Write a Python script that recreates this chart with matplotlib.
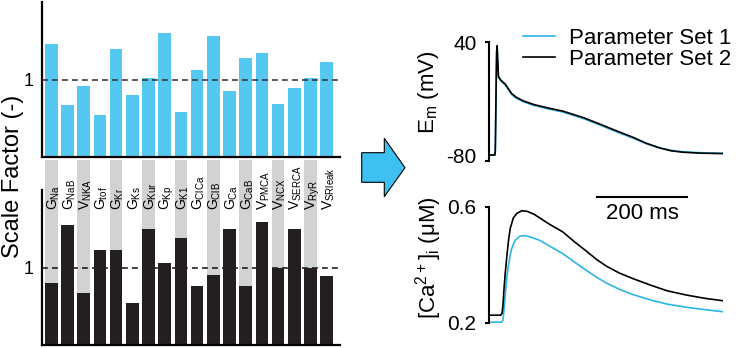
import numpy as np
import matplotlib
matplotlib.use('Agg')
import matplotlib.pyplot as plt
from matplotlib.patches import Polygon

plt.rcParams['font.family'] = ['Liberation Sans', 'DejaVu Sans']
plt.rcParams['mathtext.default'] = 'regular'

# --- Data ---
prefixes = ['G', 'G', 'V', 'G', 'G', 'G', 'G', 'G', 'G', 'G', 'G', 'G', 'G', 'V', 'V', 'V', 'V', 'V']
subs = ['Na', 'NaB', 'NKA', 'tof', 'Kr', 'Ks', 'Kur', 'Kp', 'K1', 'ClCa', 'ClB', 'Ca', 'CaB',
        'PMCA', 'NCX', 'SERCA', 'RyR', 'SRleak']
scale_set1 = [1.46, 0.67, 0.92, 0.55, 1.40, 0.80, 1.02, 1.61, 0.59, 1.13, 1.57, 0.85, 1.29,
              1.35, 0.69, 0.89, 1.02, 1.23]
scale_set2 = [0.80, 1.55, 0.68, 1.23, 1.23, 0.55, 1.51, 1.06, 1.39, 0.77, 0.91, 1.51, 0.77,
              1.60, 1.00, 1.51, 1.00, 0.89]

em_t = [0, 13, 14, 15, 16, 17, 18, 19, 21, 25, 30, 36, 43, 50, 60, 76, 100, 130, 164, 210,
        247, 280, 320, 350, 380, 405, 431, 470, 520]
em_set1 = [-80, -80, -75, -40, 0, 30, 36, 25, 3, 0, -2.5, -5, -10, -15, -19, -23, -27, -30.5,
           -34, -41, -48, -54.5, -62, -68, -72.5, -75, -76.5, -77.5, -78]
em_set2 = [-80, -80, -75, -40, 0, 30, 37, 26, 4, 1, -1.5, -4, -9, -14, -18, -22, -26, -29.5,
           -33, -40, -47, -53.5, -61, -67.5, -72.5, -75.5, -77, -78, -78.5]

ca_t1 = [0, 28, 31, 33, 36, 39, 42, 46, 50, 58, 69, 80, 91, 113, 135, 164, 190, 213, 240, 262,
         290, 320, 360, 396, 440, 480, 519]
ca_set1 = [0.203, 0.203, 0.210, 0.240, 0.294, 0.345, 0.387, 0.425, 0.455, 0.485, 0.500, 0.501,
           0.497, 0.485, 0.465, 0.439, 0.410, 0.385, 0.357, 0.337, 0.316, 0.298, 0.279, 0.265,
           0.254, 0.246, 0.239]
ca_t2 = [0, 26, 29, 31, 33, 36, 39, 43, 47, 54, 62, 73, 85, 100, 135, 164, 190, 213, 240, 262,
         290, 320, 360, 396, 440, 480, 519]
ca_set2 = [0.227, 0.227, 0.233, 0.260, 0.310, 0.370, 0.420, 0.480, 0.525, 0.562, 0.578, 0.587,
           0.585, 0.575, 0.540, 0.514, 0.480, 0.452, 0.418, 0.395, 0.372, 0.353, 0.330, 0.311,
           0.296, 0.285, 0.277]

blue = '#55C8F2'
line_blue = '#2DB4E8'
dark = '#231F20'
gray = '#D1D2D4'

W, H = 737, 348
fig = plt.figure(figsize=(W / 100, H / 100), dpi=100)


def px(x0, y0, x1, y1):
    # figure-fraction rect from pixel corners (top-left origin)
    return [x0 / W, 1 - y1 / H, (x1 - x0) / W, (y1 - y0) / H]


x = np.arange(len(subs))
labels = ['$%s_{%s}$' % (p, s) for p, s in zip(prefixes, subs)]

# --- Bar panels ---
ax_top = fig.add_axes(px(42, 2, 340, 157))
ax_bot = fig.add_axes(px(42, 190, 340, 345))

for ax in (ax_top, ax_bot):
    ax.set_xlim(-0.58, 17.82)
    ax.set_ylim(0, 2.01)
    for s in ('top', 'right'):
        ax.spines[s].set_visible(False)
    for s in ('left', 'bottom'):
        ax.spines[s].set_linewidth(1.6)
    ax.set_xticks([])
    ax.set_yticks([1])
    ax.set_yticklabels(['1'])
    ax.tick_params(axis='y', length=0, pad=6, labelsize=13)

ax_top.bar(x, scale_set1, width=0.78, color=blue, zorder=2)
ax_top.axhline(1, ls=(0, (3.5, 2.5)), lw=1.2, color='#3a3a3a', zorder=3)

# gray bands linking the panels for every other parameter
band_idx = x[::2]
band_bottom = [scale_set2[i] for i in band_idx]
ax_bot.bar(band_idx, [2.40 - b for b in band_bottom], bottom=band_bottom, width=0.78,
           color=gray, zorder=1, clip_on=False)
ax_bot.bar(x, scale_set2, width=0.78, color=dark, zorder=2)
ax_bot.axhline(1, ls=(0, (3.5, 2.5)), lw=1.2, color=dark, zorder=3)

for xi, lab in zip(x, labels):
    ax_bot.text(xi + 0.12, 1.75, lab, rotation=90, ha='center', va='bottom', fontsize=10,
                zorder=4)

fig.text(13.5 / W, 0.494, 'Scale Factor (-)', rotation=90, ha='center', va='center', fontsize=17)

# --- Arrow ---
arrow_px = [(361.7, 152.7), (384.3, 152.7), (384.3, 138.3), (405, 167.7),
            (384.3, 196.7), (384.3, 182.3), (361.7, 182.3)]
fig.add_artist(Polygon([(a / W, 1 - b / H) for a, b in arrow_px], closed=True,
                       transform=fig.transFigure, facecolor='#3EC1F0', edgecolor='black', lw=0.8))

# --- Membrane potential ---
ax_em = fig.add_axes(px(489, 42, 723, 161))
ax_em.plot(em_t, em_set1, color=line_blue, lw=1.2, label='Parameter Set 1', zorder=2)
ax_em.plot(em_t, em_set2, color='black', lw=1.2, label='Parameter Set 2', zorder=3)
ax_em.set_xlim(0, 520)
ax_em.set_ylim(-86.4, 41)
ax_em.spines['left'].set_bounds(-86.4, 41)
ax_em.set_yticks([-80, 40])
ax_em.set_yticklabels(['-80', '40'])
ax_em.set_yticks([-86.4, 40.6], minor=True)
ax_em.tick_params(axis='y', which='major', length=0, pad=9, labelsize=15)
ax_em.tick_params(axis='y', which='minor', length=3, width=1.5)
ax_em.text(-0.26, 0.58, 'E$_m$ (mV)', transform=ax_em.transAxes, rotation=90,
           ha='center', va='center', fontsize=16)
ax_em.legend(loc='upper left', bbox_to_anchor=(523 / W, 1 - 28 / H), bbox_transform=fig.transFigure,
             frameon=False, fontsize=16, handlelength=1.45, handletextpad=0.6, labelspacing=0.0,
             borderpad=0, borderaxespad=0)

# --- Calcium ---
ax_ca = fig.add_axes(px(489, 207, 723, 323))
ax_ca.plot(ca_t1, ca_set1, color=line_blue, lw=1.2)
ax_ca.plot(ca_t2, ca_set2, color='black', lw=1.2)
ax_ca.set_xlim(0, 520)
ax_ca.set_ylim(0.2, 0.6)
ax_ca.set_yticks([0.2, 0.6])
ax_ca.set_yticklabels(['0.2', '0.6'])
ax_ca.tick_params(axis='y', length=3, width=1.5, pad=6, labelsize=15)
ax_ca.text(-0.26, 0.56, '[Ca$^{2+}$]$_i$ (μM)', transform=ax_ca.transAxes, rotation=90,
           ha='center', va='center', fontsize=16)

# scale bar
ax_ca.plot([240, 440], [0.634, 0.634], color='black', lw=1.5, clip_on=False)
ax_ca.text(340, 0.579, '200 ms', ha='center', va='center', fontsize=16)

for ax in (ax_em, ax_ca):
    for s in ('top', 'right', 'bottom'):
        ax.spines[s].set_visible(False)
    ax.spines['left'].set_linewidth(1.5)
    ax.set_xticks([])

fig.savefig('out.png', dpi=100)
